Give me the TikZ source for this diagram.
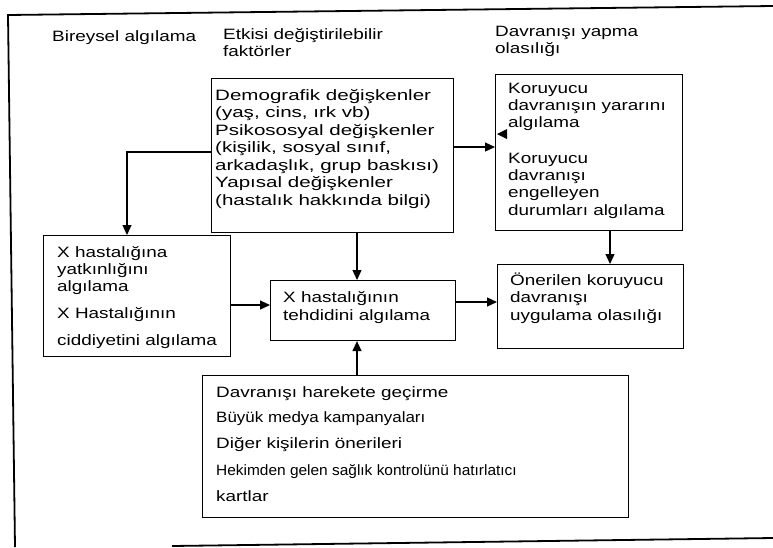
\documentclass[tikz,border=0pt]{standalone}
\usepackage{fontspec}
\setmainfont{Liberation Sans}
\newfontfamily\wfn[FakeStretch=1.26]{Liberation Sans}
\newfontfamily\wfd[FakeStretch=1.37]{Liberation Sans}
\newfontfamily\wfb[FakeStretch=1.13]{Liberation Sans}
\newfontfamily\wfh[FakeStretch=1.03]{Liberation Sans}
\newcommand\fsz{\fontsize{15pt}{18pt}\selectfont}
\usetikzlibrary{arrows.meta}
\tikzset{
  box/.style={draw, line width=1.1pt, inner sep=0pt, anchor=north west},
  txt/.style={anchor=base west, inner sep=0pt, font=\wfn\fsz},
  txtd/.style={anchor=base west, inner sep=0pt, font=\wfd\fsz},
  arr/.style={line width=1.2pt, -{Triangle[length=10pt,width=9pt]}},
  frame/.style={line width=1.8pt}
}
\begin{document}
\begin{tikzpicture}[x=1pt,y=-1pt]
\useasboundingbox (0,0) rectangle (773,547);
% outer frame (open on the right and bottom-left)
\coordinate (f1) at (8,15);
\coordinate (f2) at (773,6);
\coordinate (f3) at (15,547);
\coordinate (f4) at (172,546);
\coordinate (f5) at (773,538);
\draw[frame] (f2) -- (f1) -- (f3);
\draw[frame] (f4) -- (f5);

% headers
\node[txt] (h1) at (52,41) {Bireysel algılama};
\node[txt] (h2a) at (223,39) {Etkisi değiştirilebilir};
\node[txt] (h2b) at (223,56) {faktörler};
\node[txt] (h3a) at (495,36) {Davranışı yapma};
\node[txt] (h3b) at (495,53) {olasılığı};

% boxes
\node[box, minimum width=242pt, minimum height=154pt] (demo) at (211,78) {};
\node[box, minimum width=187pt, minimum height=156pt] (koru) at (495,74) {};
\node[box, minimum width=187pt, minimum height=121pt] (yatk) at (43,235) {};
\node[box, minimum width=185pt, minimum height=60pt] (teh) at (270,280) {};
\node[box, minimum width=186pt, minimum height=84pt] (oneri) at (497,264) {};
\node[box, minimum width=426pt, minimum height=142pt] (bot) at (202,375) {};

% demo text
\node[txtd] (d1) at (215,100) {Demografik değişkenler};
\node[txtd] (d2) at (215,117.5) {(yaş, cins, ırk vb)};
\node[txtd] (d3) at (215,135) {Psikososyal değişkenler};
\node[txtd] (d4) at (215,152.5) {(kişilik, sosyal sınıf,};
\node[txtd] (d5) at (215,170) {arkadaşlık, grup baskısı)};
\node[txtd] (d6) at (215,187.5) {Yapısal değişkenler};
\node[txtd] (d7) at (215,205) {(hastalık hakkında bilgi)};

% koru text
\node[txt] (k1) at (508,93) {Koruyucu};
\node[txt] (k2) at (508,110) {davranışın yararını};
\node[txt] (k3) at (508,127) {algılama};
\node[txt] (k4) at (508,163) {Koruyucu};
\node[txt] (k5) at (508,180) {davranışı};
\node[txt] (k6) at (508,197.5) {engelleyen};
\node[txt] (k7) at (508,215) {durumları algılama};

% yatk text
\node[txt] (y1) at (57,257) {X hastalığına};
\node[txt] (y2) at (57,274) {yatkınlığını};
\node[txt] (y3) at (57,291) {algılama};
\node[txt] (y4) at (57,318) {X Hastalığının};
\node[txt] (y5) at (57,345) {ciddiyetini algılama};

% tehdit text
\node[txt] (t1) at (283,302) {X hastalığının};
\node[txt] (t2) at (283,320) {tehdidini algılama};

% oneri text
\node[txt] (o1) at (510,285) {Önerilen koruyucu};
\node[txt] (o2) at (510,302) {davranışı};
\node[txt] (o3) at (510,320) {uygulama olasılığı};

% bottom text
\node[txt] (b1) at (216,397) {Davranışı harekete geçirme};
\node[txt, font=\wfb\fsz] (b2) at (216,422) {Büyük medya kampanyaları};
\node[txt] (b3) at (216,448) {Diğer kişilerin önerileri};
\node[txt, font=\wfh\fsz] (b4) at (216,475) {Hekimden gelen sağlık kontrolünü hatırlatıcı};
\node[txt] (b5) at (216,501) {kartlar};

% helper coordinates for connector positions
\coordinate (cx) at (357,0);
\coordinate (cl) at (127,152);
\coordinate (cy1) at (0,147);
\coordinate (cy2) at (0,305);
\coordinate (cy3) at (0,302);
\coordinate (ckx) at (610,0);

% connectors
\draw[arr] (demo.east |- cy1) -- (koru.west |- cy1);
\draw[arr] (demo.west |- cl) -- (cl) -- (cl |- yatk.north);
\draw[arr] (cx |- demo.south) -- (cx |- teh.north);
\draw[arr] (yatk.east |- cy2) -- (teh.west |- cy2);
\draw[arr] (teh.east |- cy3) -- (oneri.west |- cy3);
\draw[arr] (ckx |- koru.south) -- (ckx |- oneri.north);
\draw[arr] (cx |- bot.north) -- (cx |- teh.south);

% small stray arrowhead beside "algılama"
\fill (497,134) -- (507,129) -- (507,139) -- cycle;
\end{tikzpicture}
\end{document}
